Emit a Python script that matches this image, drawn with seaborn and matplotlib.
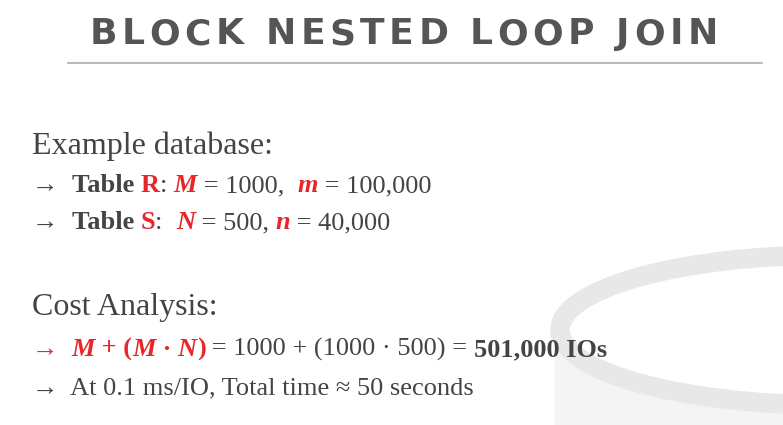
import matplotlib
matplotlib.use("Agg")
import matplotlib.pyplot as plt
import seaborn as sns
from matplotlib.patches import Ellipse, Rectangle

sns.set_theme(style="white")
plt.rcParams['font.family'] = ['Liberation Serif', 'DejaVu Serif']

title = "BLOCK NESTED LOOP JOIN"
M, m = "1000", "100,000"
N, n = "500", "40,000"
cost = "501,000 IOs"
seconds = "50"

RED = "#e8262a"
DARK = "#444444"

fig = plt.figure(figsize=(7.83, 4.25), dpi=100)
ax = fig.add_axes([0, 0, 1, 1])
ax.set_xlim(0, 783)
ax.set_ylim(425, 0)
ax.axis("off")

# decorative cylinder, bottom right
ax.add_patch(Rectangle((555, 330), 300, 120, color="#f4f4f4", zorder=0))
ax.add_patch(Ellipse((830, 330), 540, 150, facecolor="white", edgecolor="#e8e8e8", lw=14, zorder=1))

fig.canvas.draw()
r = fig.canvas.get_renderer()

def draw_line(x, y, pieces, size):
    for txt, color, weight, style in pieces:
        t = ax.text(x, y, txt, color=color, fontsize=size, fontweight=weight,
                    fontstyle=style, va="baseline", ha="left", zorder=3)
        bb = t.get_window_extent(renderer=r)
        x += bb.width

# title with wide letter spacing
x = 90
for ch in title:
    t = ax.text(x, 44, ch, fontsize=26, fontweight="bold", color="#555555",
                family="DejaVu Sans", va="baseline", zorder=3)
    x += t.get_window_extent(renderer=r).width + 4.5
ax.plot([68, 762], [63, 63], color="#bbbbbb", lw=1.5)

N_ = "normal"
B = "bold"
I = "italic"
draw_line(32, 154, [("Example database:", DARK, N_, N_)], 23)
draw_line(32, 192, [("→  ", DARK, N_, N_), ("Table ", DARK, B, N_), ("R", RED, B, N_),
                    (": ", DARK, N_, N_), ("M", RED, B, I), (" = " + M + ",  ", DARK, N_, N_),
                    ("m", RED, B, I), (" = " + m, DARK, N_, N_)], 19)
draw_line(32, 229, [("→  ", DARK, N_, N_), ("Table ", DARK, B, N_), ("S", RED, B, N_),
                    (":  ", DARK, N_, N_), ("N", RED, B, I), (" = " + N + ", ", DARK, N_, N_),
                    ("n", RED, B, I), (" = " + n, DARK, N_, N_)], 19)
draw_line(32, 315, [("Cost Analysis:", DARK, N_, N_)], 23)
draw_line(32, 356, [("→  ", RED, N_, N_), ("M", RED, B, I), (" + (", RED, B, N_), ("M", RED, B, I),
                    (" · ", RED, B, N_), ("N", RED, B, I), (")", RED, B, N_),
                    (" = 1000 + (1000 · 500) = ", DARK, N_, N_), (cost, DARK, B, N_)], 19)
draw_line(32, 394, [("→  At 0.1 ms/IO, Total time ≈ " + seconds + " seconds", DARK, N_, N_)], 19)

fig.savefig("out.png", dpi=100)
